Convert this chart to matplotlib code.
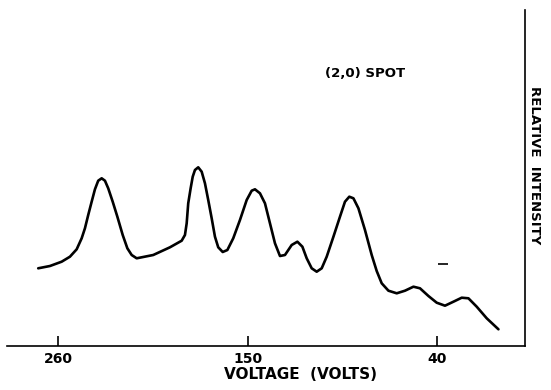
import matplotlib.pyplot as plt

# (2,0) spot intensity vs voltage
voltage = [271.5, 264.7, 257.9, 253.1, 249.2, 246.3, 244.4, 242.5, 240.5, 238.6,
           236.7, 234.7, 232.8, 230.9, 228.3, 225.6, 222.5, 219.8, 217.3, 214.4,
           204.8, 195.1, 188.3, 186.4, 185.4, 184.5, 183.1, 181.9, 180.6, 178.7,
           176.7, 174.8, 172.9, 170.9, 169.0, 167.1, 164.5, 161.8, 158.4, 154.5,
           150.6, 147.7, 145.8, 142.9, 140.0, 137.1, 134.2, 131.3, 128.4, 124.5,
           121.2, 118.3, 115.8, 112.9, 110.0, 107.1, 104.2, 100.3, 96.5, 93.6,
           91.1, 88.7, 85.8, 82.0, 78.1, 75.2, 72.3, 68.4, 63.6, 58.8,
           53.9, 50.1, 45.2, 40.4, 35.6, 30.7, 25.9, 22.0, 17.2, 11.4, 4.6]
intensity = [77.7, 80.0, 84.3, 89.3, 96.7, 107.7, 117.7, 131.0, 144.3, 156.7,
             165.3, 167.7, 165.3, 157.7, 144.3, 129.3, 111.0, 97.7, 91.0, 87.7,
             91.0, 98.7, 105.3, 111.0, 122.7, 142.7, 157.7, 169.3, 176.0, 178.7,
             174.3, 162.7, 146.0, 127.7, 109.3, 98.7, 94.0, 96.0, 107.7, 126.0,
             146.0, 155.3, 156.7, 152.7, 142.7, 122.7, 102.7, 90.0, 91.0, 101.0,
             104.3, 99.3, 87.7, 77.7, 74.3, 77.7, 89.3, 109.3, 129.3, 144.3,
             149.3, 147.7, 137.7, 116.0, 91.0, 75.0, 62.7, 55.3, 52.7, 55.3,
             59.3, 57.7, 50.0, 43.3, 40.3, 44.3, 48.3, 47.7, 39.3, 27.7, 16.7]

tick_pos = [260, 150, 40]
tick_labels = ['260', '150', '40']

# small stray dash in the scan
dash_v = [36.7]
dash_i = [82.0]

fig = plt.figure(figsize=(5.51, 3.90), dpi=100)
ax = fig.add_axes([7 / 551, 44 / 390, 518 / 551, 336 / 390])

ax.plot(voltage, intensity, color='black', lw=1.9,
        solid_capstyle='round', solid_joinstyle='round')
ax.plot(dash_v, dash_i, marker='_', ms=7.5, mew=1.2, color='black', ls='none')

ax.set_xlim(289.6, -10.8)
ax.set_ylim(0, 336)

for s in ['top', 'left']:
    ax.spines[s].set_visible(False)
for s in ['bottom', 'right']:
    ax.spines[s].set_linewidth(1.2)

ax.set_xticks(tick_pos)
ax.set_xticklabels(tick_labels, fontsize=10, fontweight='bold')
ax.tick_params(axis='x', direction='in', length=7.5, width=1.2, pad=4)
ax.set_yticks([])

ax.set_xlabel('VOLTAGE  (VOLTS)', fontsize=11, fontweight='bold',
              labelpad=1, x=0.566)

ax.text(1.019, 0.539, 'RELATIVE  INTENSITY', transform=ax.transAxes,
        fontsize=9.5, fontweight='bold', rotation=-90,
        ha='center', va='center')

ax.text(0.692, 0.81, '(2,0) SPOT', transform=ax.transAxes,
        fontsize=9.5, fontweight='bold', ha='center', va='center')

fig.savefig('out.png', dpi=100)
